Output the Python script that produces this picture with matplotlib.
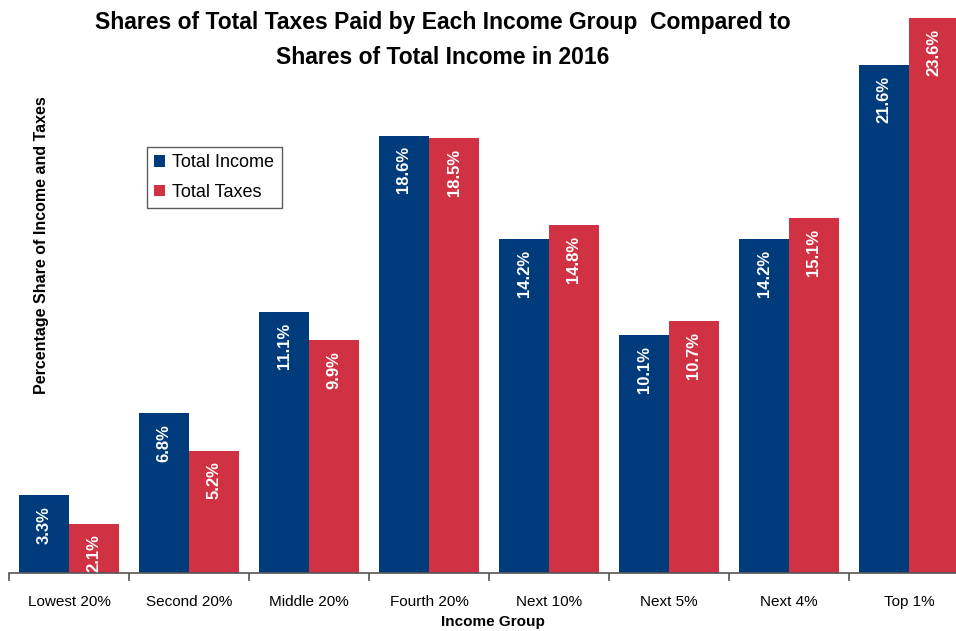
import matplotlib

matplotlib.use("Agg")
import matplotlib.pyplot as plt  # noqa: E402
import numpy as np  # noqa: E402

groups = ["Lowest 20%", "Second 20%", "Middle 20%", "Fourth 20%",
          "Next 10%", "Next 5%", "Next 4%", "Top 1%"]
income = [3.3, 6.8, 11.1, 18.6, 14.2, 10.1, 14.2, 21.6]
taxes = [2.1, 5.2, 9.9, 18.5, 14.8, 10.7, 15.1, 23.6]

BLUE = "#003b7b"
RED = "#d03244"
plt.rcParams["font.family"] = ["Liberation Sans", "DejaVu Sans"]

fig = plt.figure(figsize=(9.56, 6.31), dpi=100)
ax = fig.add_axes([9 / 956, 58 / 631, 960 / 956, 555 / 631])

x = np.arange(len(groups))
w = 50 / 120
ax.bar(x - w / 2, income, w, color=BLUE, label="Total Income")
ax.bar(x + w / 2, taxes, w, color=RED, label="Total Taxes")

for xi, v in zip(x - w / 2, income):
    ax.text(xi, v - 0.45, f"{v:.1f}%", rotation=90, ha="center", va="top",
            color="white", fontsize=12, fontweight="bold")
for xi, v in zip(x + w / 2, taxes):
    ax.text(xi, v - 0.45, f"{v:.1f}%", rotation=90, ha="center", va="top",
            color="white", fontsize=12, fontweight="bold")

ax.set_xlim(-0.5, len(groups) - 0.5)
ax.set_ylim(0, 23.6)
ax.set_xticks(x)
ax.set_xticklabels(groups, fontsize=11)
ax.tick_params(axis="x", which="major", length=0, pad=16)
ax.set_xticks(np.arange(len(groups) + 1) - 0.5, minor=True)
ax.tick_params(axis="x", which="minor", length=6, color="#555555", width=1.2)
ax.set_yticks([])
for side in ["top", "right", "left"]:
    ax.spines[side].set_visible(False)
ax.spines["bottom"].set_color("#555555")
ax.spines["bottom"].set_linewidth(1.2)

fig.text(493 / 956, 1 - 622 / 631, "Income Group", ha="center", va="center",
         fontsize=11, fontweight="bold")
fig.text(42 / 956, 1 - 245 / 631, "Percentage Share of Income and Taxes",
         rotation=90, ha="center", va="center", fontsize=11.5, fontweight="bold")
fig.text(443 / 956, 1 - 22 / 631,
         "Shares of Total Taxes Paid by Each Income Group  Compared to",
         ha="center", va="center", fontsize=16.5, fontweight="bold")
fig.text(443 / 956, 1 - 58 / 631, "Shares of Total Income in 2016",
         ha="center", va="center", fontsize=16.5, fontweight="bold")

leg = ax.legend(loc="upper left", bbox_to_anchor=(138 / 960, 1 - 129 / 555),
                borderaxespad=0, fontsize=13, frameon=True, fancybox=False,
                edgecolor="#333333", handlelength=0.6, handleheight=0.6,
                handletextpad=0.4, borderpad=0.4, labelspacing=0.7)
leg.get_frame().set_linewidth(1.0)

fig.savefig("out.png", dpi=100)
plt.close(fig)
